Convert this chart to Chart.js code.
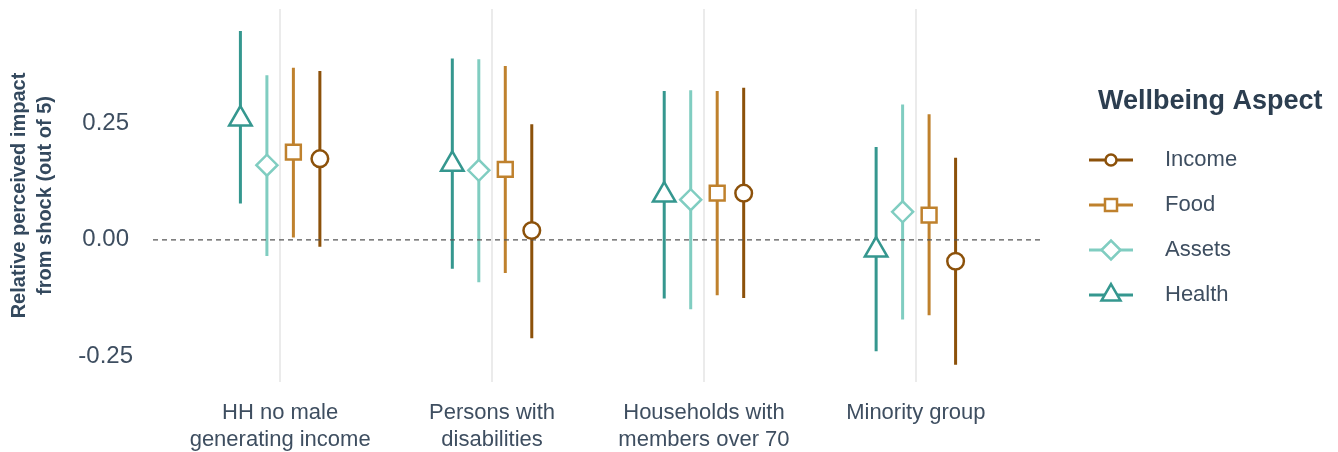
<!DOCTYPE html>
<html>
<head>
<meta charset="utf-8">
<title>Relative perceived impact from shock</title>
<script src="https://cdn.jsdelivr.net/npm/chart.js@4.4.1/dist/chart.umd.min.js"></script>
<style>
    html, body { margin: 0; padding: 0; background: #fff; }
    #wrap { position: relative; width: 1338px; height: 452px; }
</style>
</head>
<body>
<div id="wrap"><canvas id="impactChart"></canvas></div>
<script>
(function () {
    "use strict";

    // categories (multi-line labels) and y ticks
    var categories = [
        ['HH no male', 'generating income'],
        ['Persons with', 'disabilities'],
        ['Households with', 'members over 70'],
        ['Minority group']
    ];
    var yTicks = [-0.25, 0, 0.25];

    // point estimates and interval ends
    var healthEst = [0.259, 0.162, 0.096, -0.022];
    var healthLo  = [0.078, -0.062, -0.126, -0.239];
    var healthHi  = [0.448, 0.389, 0.319, 0.199];

    var assetsEst = [0.160, 0.149, 0.086, 0.060];
    var assetsLo  = [-0.035, -0.091, -0.149, -0.171];
    var assetsHi  = [0.353, 0.387, 0.321, 0.290];

    var foodEst = [0.188, 0.151, 0.100, 0.053];
    var foodLo  = [0.005, -0.071, -0.119, -0.162];
    var foodHi  = [0.369, 0.373, 0.319, 0.269];

    var incomeEst = [0.174, 0.020, 0.100, -0.046];
    var incomeLo  = [-0.015, -0.211, -0.125, -0.268];
    var incomeHi  = [0.362, 0.248, 0.326, 0.176];

    var textColor = '#3e4e60';
    var fontFamily = '"Liberation Sans", Arial, sans-serif';
    Chart.defaults.font.family = fontFamily;

    // left to right inside each group
    var aspects = [
        { name: 'Health', color: '#35978f', style: 'triangle', r: 13, legendR: 11, est: healthEst, lo: healthLo, hi: healthHi },
        { name: 'Assets', color: '#80cdc1', style: 'rectRot', r: 10.5, legendR: 9.5, est: assetsEst, lo: assetsLo, hi: assetsHi },
        { name: 'Food', color: '#bf812d', style: 'rect', r: 10.5, legendR: 8.5, est: foodEst, lo: foodLo, hi: foodHi },
        { name: 'Income', color: '#8c510a', style: 'circle', r: 8.3, legendR: 5.5, est: incomeEst, lo: incomeLo, hi: incomeHi }
    ];
    var dodge = 0.125;

    var datasets = [];
    aspects.forEach(function (a, i) {
        var off = (i - 1.5) * dodge;
        var bars = [];
        a.est.forEach(function (v, j) {
            var x = j + 1 + off;
            bars.push({ x: x, y: a.lo[j] }, { x: x, y: a.hi[j] }, { x: x, y: null });
        });
        datasets.push({
            type: 'line',
            label: a.name + ' interval',
            data: bars,
            borderColor: a.color,
            borderWidth: 3,
            borderCapStyle: 'butt',
            pointRadius: 0,
            spanGaps: false,
            order: 3
        });
        datasets.push({
            type: 'scatter',
            label: a.name,
            data: a.est.map(function (v, j) { return { x: j + 1 + off, y: v }; }),
            pointStyle: a.style,
            pointRadius: a.r,
            pointBackgroundColor: '#ffffff',
            pointBorderColor: a.color,
            pointBorderWidth: 2.5,
            order: 1
        });
    });
    // dashed zero reference line
    datasets.push({
        type: 'line',
        label: 'zero',
        data: [{ x: 0.4, y: 0 }, { x: 4.6, y: 0 }],
        borderColor: '#555555',
        borderWidth: 1.3,
        borderDash: [5, 4],
        pointRadius: 0,
        order: 2
    });

    var legendOrder = aspects.slice().reverse();

    var aspectLegend = {
        id: 'aspectLegend',
        afterDraw: function (chart) {
            var ctx = chart.ctx;
            var left = chart.chartArea.right + 46;
            ctx.save();
            ctx.textBaseline = 'middle';
            ctx.textAlign = 'left';
            ctx.font = 'bold 27px ' + fontFamily;
            ctx.fillStyle = '#2c3e50';
            ctx.fillText('Wellbeing Aspect', left + 9, 102);
            legendOrder.forEach(function (a, k) {
                var y = 160 + k * 45;
                ctx.strokeStyle = a.color;
                ctx.lineWidth = 3;
                ctx.beginPath();
                ctx.moveTo(left, y);
                ctx.lineTo(left + 44, y);
                ctx.stroke();
                ctx.fillStyle = '#ffffff';
                ctx.lineWidth = 2.5;
                Chart.helpers.drawPoint(ctx, { pointStyle: a.style, radius: a.legendR, rotation: 0, borderWidth: 2.5 }, left + 22, y);
                ctx.font = '22px ' + fontFamily;
                ctx.fillStyle = textColor;
                ctx.fillText(a.name, left + 76, y);
            });
            ctx.restore();
        }
    };

    var ctx = document.getElementById('impactChart');
    new Chart(ctx, {
        type: 'scatter',
        data: { datasets: datasets },
        plugins: [aspectLegend],
        options: {
            responsive: true,
            maintainAspectRatio: false,
            animation: false,
            events: [],
            layout: {
                autoPadding: false,
                padding: { top: 9, right: 295, left: 0, bottom: 0 }
            },
            plugins: {
                legend: { display: false },
                tooltip: { enabled: false }
            },
            scales: {
                x: {
                    type: 'linear',
                    min: 0.4,
                    max: 4.6,
                    afterBuildTicks: function (scale) {
                        scale.ticks = categories.map(function (c, i) { return { value: i + 1 }; });
                    },
                    afterFit: function (scale) {
                        scale.height = 70;
                        scale.paddingLeft = 0;
                        scale.paddingRight = 0;
                    },
                    grid: { color: '#ebebeb', lineWidth: 2, drawTicks: false },
                    border: { display: false },
                    ticks: {
                        autoSkip: false,
                        maxRotation: 0,
                        padding: 17,
                        color: textColor,
                        font: { size: 22, lineHeight: 1.23 },
                        callback: function (value) { return categories[Math.round(value) - 1]; }
                    }
                },
                y: {
                    min: -0.305,
                    max: 0.495,
                    afterBuildTicks: function (scale) {
                        scale.ticks = yTicks.map(function (v) { return { value: v }; });
                    },
                    afterFit: function (scale) {
                        scale.width = 153;
                        scale.paddingTop = 0;
                        scale.paddingBottom = 0;
                    },
                    grid: { display: false, drawTicks: false },
                    border: { display: false },
                    ticks: {
                        crossAlign: 'center',
                        padding: 20,
                        color: textColor,
                        font: { size: 24 },
                        callback: function (value) { return value.toFixed(2); }
                    },
                    title: {
                        display: true,
                        text: ['Relative perceived impact', 'from shock (out of 5)'],
                        color: '#34495e',
                        font: { size: 20, weight: 'bold', lineHeight: 1.3 },
                        padding: { top: 6, bottom: 0 }
                    }
                }
            }
        }
    });
})();
</script>
</body>
</html>
